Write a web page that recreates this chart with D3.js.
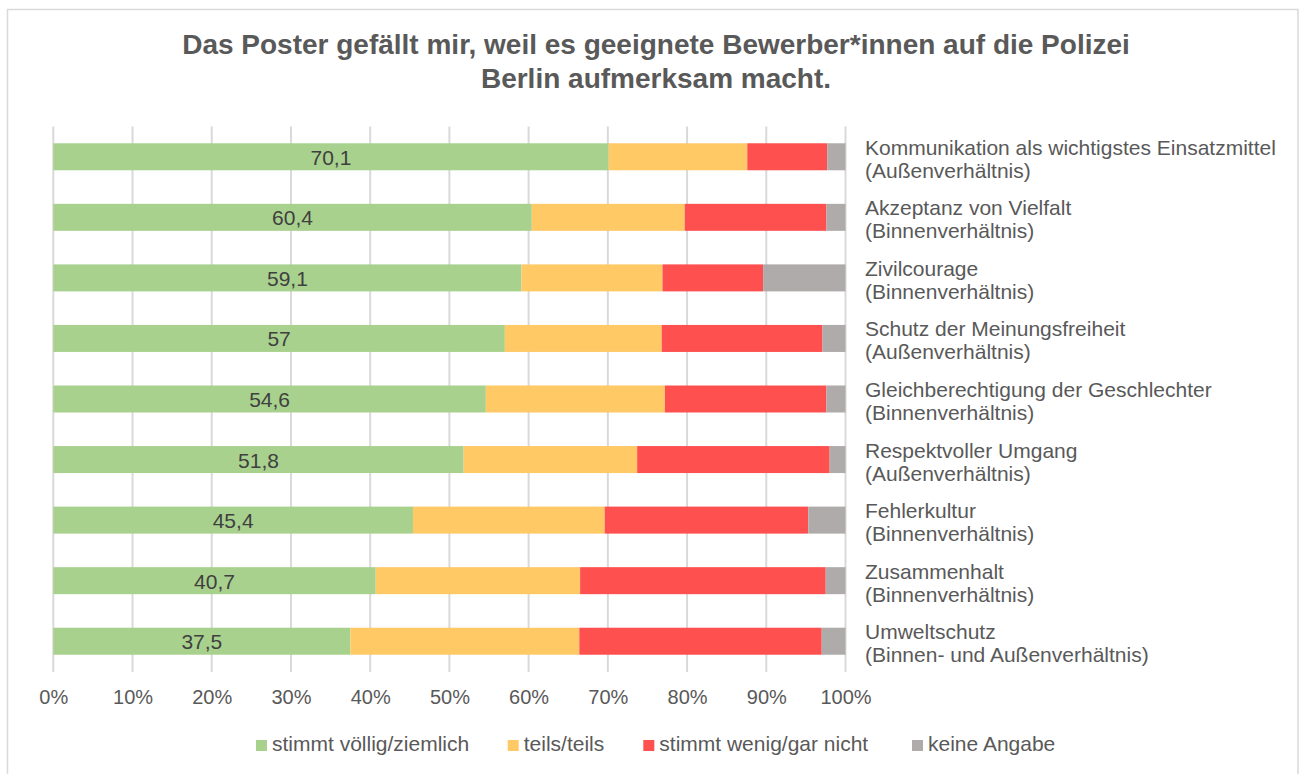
<!DOCTYPE html>
<html>
<head>
<meta charset="utf-8">
<script src="https://cdn.jsdelivr.net/npm/d3@7"></script>
<style>
  html, body { margin: 0; padding: 0; background: #fff; }
  svg { display: block; font-family: "Liberation Sans", Arial, sans-serif; }
</style>
</head>
<body>
<svg id="chart" width="1304" height="774"></svg>
<script>
// Poster themes (two-line labels) and answer shares in percent
const categories = [
  ["Kommunikation als wichtigstes Einsatzmittel", "(Außenverhältnis)"],
  ["Akzeptanz von Vielfalt", "(Binnenverhältnis)"],
  ["Zivilcourage", "(Binnenverhältnis)"],
  ["Schutz der Meinungsfreiheit", "(Außenverhältnis)"],
  ["Gleichberechtigung der Geschlechter", "(Binnenverhältnis)"],
  ["Respektvoller Umgang", "(Außenverhältnis)"],
  ["Fehlerkultur", "(Binnenverhältnis)"],
  ["Zusammenhalt", "(Binnenverhältnis)"],
  ["Umweltschutz", "(Binnen- und Außenverhältnis)"]
];
const seriesNames = ["stimmt völlig/ziemlich", "teils/teils", "stimmt wenig/gar nicht", "keine Angabe"];
const stimmtVoellig = [70.1, 60.4, 59.1, 57.0, 54.6, 51.8, 45.4, 40.7, 37.5];
const teilsTeils    = [17.5, 19.3, 17.8, 19.8, 22.6, 21.9, 24.2, 25.8, 28.9];
const stimmtWenig   = [10.1, 17.9, 12.7, 20.3, 20.4, 24.3, 25.7, 31.0, 30.6];
const keineAngabe   = [2.3, 2.4, 10.4, 2.9, 2.4, 2.0, 4.7, 2.5, 3.0];
const tickValues = [0, 10, 20, 30, 40, 50, 60, 70, 80, 90, 100];
const titleLines = ["Das Poster gefällt mir, weil es geeignete Bewerber*innen auf die Polizei",
                    "Berlin aufmerksam macht."];
const colors = ["#A9D18E", "#FFC966", "#FF5050", "#AFABAB"];

const svg = d3.select("#chart");
const textColor = "#595959";

// outer frame
svg.append("rect")
  .attr("x", 7.5).attr("y", 9.5).attr("width", 1290.5).attr("height", 780)
  .attr("fill", "#fff").attr("stroke", "#D9D9D9").attr("stroke-width", 1.5);

// title
svg.append("g").selectAll("text").data(titleLines).join("text")
  .attr("x", 656).attr("y", (d, i) => 54 + i * 34)
  .attr("text-anchor", "middle")
  .attr("font-size", 28).attr("font-weight", "bold").attr("fill", textColor)
  .text(d => d);

const x = d3.scaleLinear().domain([0, 100]).range([53.3, 845.5]);
const y = d3.scaleBand().domain(d3.range(categories.length)).range([126.5, 671.5]).paddingInner(0.554).paddingOuter(0.277);

// vertical gridlines, running down to the tick labels
svg.append("g").selectAll("line").data(tickValues).join("line")
  .attr("x1", d => x(d)).attr("x2", d => x(d))
  .attr("y1", 126.5).attr("y2", 672)
  .attr("stroke", "#D9D9D9").attr("stroke-width", 2);

// stacked bars
const stackData = categories.map((c, i) => {
  const vals = [stimmtVoellig[i], teilsTeils[i], stimmtWenig[i], keineAngabe[i]];
  const o = { i };
  seriesNames.forEach((s, k) => o[s] = vals[k]);
  return o;
});
const stack = d3.stack().keys(seriesNames)(stackData);

svg.append("g").selectAll("g").data(stack).join("g")
  .attr("fill", (d, k) => colors[k])
  .selectAll("rect").data(d => d).join("rect")
  .attr("x", d => x(d[0]))
  .attr("y", d => y(d.data.i))
  .attr("width", d => x(d[1]) - x(d[0]))
  .attr("height", y.bandwidth());

// value labels for the first series
svg.append("g").selectAll("text").data(stack[0]).join("text")
  .attr("x", d => (x(d[0]) + x(d[1])) / 2)
  .attr("y", d => y(d.data.i) + y.bandwidth() / 2 + 8)
  .attr("text-anchor", "middle")
  .attr("font-size", 21).attr("fill", "#404040")
  .text(d => String(d.data[seriesNames[0]]).replace(".", ","));

// category labels on the right
const catG = svg.append("g").selectAll("text").data(categories).join("text")
  .attr("x", 865)
  .attr("y", (d, i) => y(i) + y.bandwidth() / 2 - 2)
  .attr("font-size", 21).attr("fill", textColor);
catG.selectAll("tspan").data(d => d).join("tspan")
  .attr("x", 865)
  .attr("dy", (d, k) => k === 0 ? 0 : 23)
  .text(d => d);

// x axis
const xAxis = svg.append("g")
  .attr("transform", "translate(0,672)")
  .call(d3.axisBottom(x).tickValues(tickValues).tickSize(0).tickPadding(18).tickFormat(d => d + "%"));
xAxis.select(".domain").remove();
xAxis.selectAll("text").attr("font-size", 20).attr("fill", textColor)
  .attr("font-family", "Liberation Sans, Arial, sans-serif");

// legend
const legendX = [256, 507.7, 643.3, 912];
const legend = svg.append("g").selectAll("g").data(seriesNames).join("g")
  .attr("transform", (d, k) => `translate(${legendX[k]},740)`);
legend.append("rect").attr("width", 11).attr("height", 11).attr("fill", (d, k) => colors[k]);
legend.append("text").attr("x", 16).attr("y", 11)
  .attr("font-size", 21).attr("fill", textColor).text(d => d);
</script>
</body>
</html>
